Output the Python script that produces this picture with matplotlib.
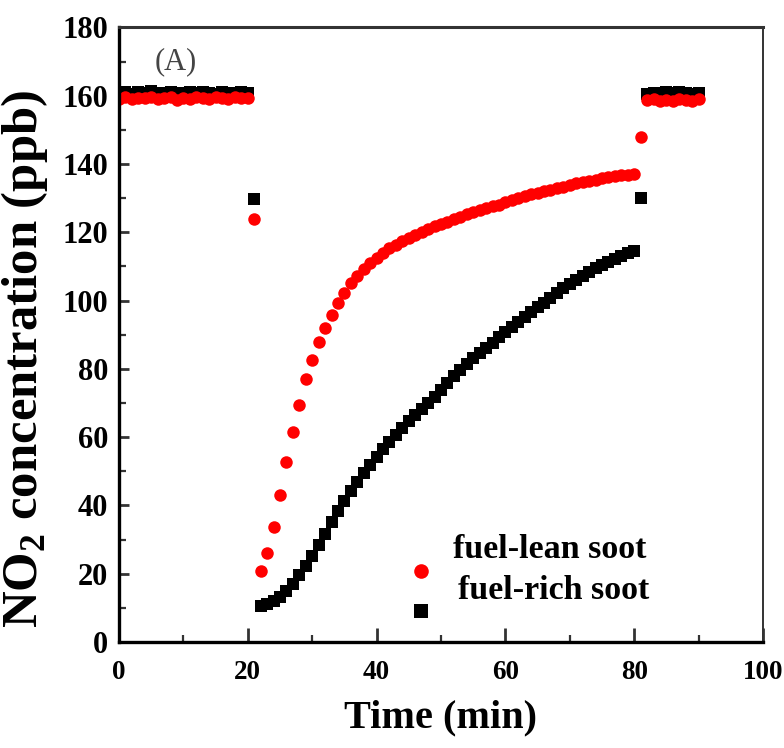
import matplotlib
matplotlib.use("Agg")
import matplotlib.pyplot as plt
import numpy as np

# ---------------- data ----------------
time_left = list(range(0, 21))
lean_left = [159.1, 159.6, 158.9, 159.4, 159.2, 159.7, 159.0, 159.3, 159.5, 158.8, 159.4,
             159.1, 159.6, 159.2, 158.9, 159.5, 159.3, 159.0, 159.7, 159.2, 159.4]
rich_left = [160.8, 161.2, 160.6, 161.0, 160.9, 161.3, 160.7, 160.8, 161.1, 160.5, 160.9,
             161.0, 160.7, 161.2, 160.8, 160.6, 161.1, 160.9, 160.7, 161.0, 160.8]

time_mid = list(range(21, 82))
lean_mid = [124.0, 20.8, 26.2, 33.7, 43.1, 52.7, 61.5, 69.5, 77.0, 82.7, 87.8,
            92.0, 95.9, 99.2, 102.3, 105.0, 107.3, 109.3, 111.0, 112.6, 114.0,
            115.3, 116.4, 117.4, 118.3, 119.2, 120.0, 120.9, 121.7, 122.4, 123.1,
            123.9, 124.6, 125.3, 125.9, 126.5, 127.1, 127.6, 128.1, 128.8, 129.4,
            130.0, 130.6, 131.2, 131.6, 132.0, 132.5, 133.0, 133.4, 133.8, 134.3,
            134.7, 135.1, 135.4, 135.8, 136.1, 136.4, 136.7, 136.9, 137.0, 148.0]
rich_mid = [129.8, 10.4, 11.2, 12.0, 13.2, 15.0, 17.0, 19.5, 22.2, 25.2, 28.3,
            31.6, 35.0, 38.3, 41.3, 44.1, 46.8, 49.4, 51.8, 54.1, 56.4,
            58.6, 60.7, 62.7, 64.6, 66.4, 68.2, 70.0, 71.9, 73.9, 75.9,
            77.8, 79.6, 81.4, 83.1, 84.7, 86.2, 87.7, 89.2, 90.7, 92.2,
            93.7, 95.1, 96.6, 98.0, 99.4, 100.8, 102.2, 103.6, 104.9, 106.1,
            107.3, 108.4, 109.4, 110.4, 111.3, 112.2, 113.1, 113.8, 114.4, 130.1]

time_right = list(range(82, 91))
lean_right = [158.6, 159.0, 158.4, 158.8, 158.5, 159.1, 158.7, 158.3, 158.9]
rich_right = [160.6, 160.9, 160.5, 161.0, 160.7, 161.2, 160.8, 160.6, 160.9]

series_labels = ["fuel-lean soot", "fuel-rich soot"]
x_ticks = [0, 20, 40, 60, 80, 100]
y_ticks = [0, 20, 40, 60, 80, 100, 120, 140, 160, 180]

# ---------------- style ----------------
plt.rcParams['mathtext.fontset'] = 'custom'
plt.rcParams['mathtext.rm'] = 'Liberation Serif:bold'
plt.rcParams['mathtext.bf'] = 'Liberation Serif:bold'
serif = 'Liberation Serif'

fig = plt.figure(figsize=(7.84, 7.48), dpi=100)
ax = fig.add_axes([119/784, 1 - 642/748, (763-119)/784, (642-27.4)/748])

tx = time_left + time_mid + time_right
lean = lean_left + lean_mid + lean_right
rich = rich_left + rich_mid + rich_right

ax.plot(tx, rich, linestyle='none', marker='s', markersize=8.2, color='black',
        markeredgewidth=0)
ax.plot(tx, lean, linestyle='none', marker='o', markersize=9.0, color='#ff0000',
        markeredgewidth=0)

ax.set_xlim(0, 100)
ax.set_ylim(0, 180)
ax.set_xticks(x_ticks)
ax.set_yticks(y_ticks)
ax.set_xticks(range(10, 100, 20), minor=True)
ax.set_yticks(range(10, 180, 20), minor=True)

ax.tick_params(axis='both', which='major', direction='in', length=10, width=2,
               color='#333333', labelsize=21, pad=8)
ax.tick_params(axis='both', which='minor', direction='in', length=5, width=1.6,
               color='#333333')
ax.tick_params(axis='y', which='major', length=7, pad=8, labelsize=22)
ax.tick_params(axis='x', which='major', pad=13, labelsize=19.5)
for lab in ax.get_xticklabels() + ax.get_yticklabels():
    lab.set_fontfamily(serif)
    lab.set_fontweight('bold')

for side in ['left', 'bottom']:
    ax.spines[side].set_linewidth(2.4)
    ax.spines[side].set_color('black')
ax.spines['top'].set_linewidth(2.2)
ax.spines['top'].set_color('#333333')
ax.spines['right'].set_linewidth(1.4)
ax.spines['right'].set_color('#333333')

ax.set_xlabel('Time (min)', fontfamily=serif, fontweight='bold', fontsize=29, labelpad=10)
ax.set_ylabel(r'NO$_{\mathregular{2}}$ concentration (ppb)', fontfamily=serif,
              fontweight='bold', fontsize=36.5)
ax.yaxis.set_label_coords(-0.107, 0.46)

ax.text(0.056, 0.968, '(A)', transform=ax.transAxes, fontfamily=serif,
        fontsize=22, color='#444444', va='top', ha='left')

# legend
ax.text(0.518, 0.150, series_labels[0], transform=ax.transAxes, fontfamily=serif,
        fontweight='bold', fontsize=24.5, va='center', ha='left')
ax.text(0.526, 0.083, series_labels[1], transform=ax.transAxes, fontfamily=serif,
        fontweight='bold', fontsize=24.5, va='center', ha='left')
ax.plot([0.469], [0.115], transform=ax.transAxes, marker='o', markersize=10.5,
        color='#ff0000', markeredgewidth=0, clip_on=False)
ax.plot([0.469], [0.051], transform=ax.transAxes, marker='s', markersize=10,
        color='black', markeredgewidth=0, clip_on=False)

fig.savefig('out.png', dpi=100)
